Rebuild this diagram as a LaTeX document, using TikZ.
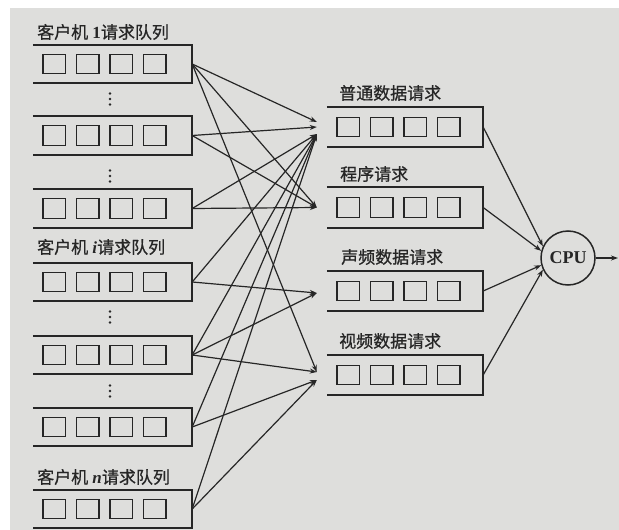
\documentclass[tikz,border=0pt]{standalone}
\usepackage{fontspec}
\setmainfont{Liberation Serif}
\newfontfamily\cjk[FakeBold=0.8]{Noto Sans CJK SC}
\usetikzlibrary{arrows.meta}

\definecolor{paper}{RGB}{222,222,220}
\definecolor{ink}{RGB}{38,38,38}

\tikzset{
    kqueue/.style={minimum width=159pt, minimum height=38pt, inner sep=0pt},
    tqueue/.style={minimum width=156pt, minimum height=40pt, inner sep=0pt},
    qline/.style={draw=ink, line width=1.8pt},
    slot/.style={draw=ink, line width=1.3pt, minimum width=22.5pt, minimum height=19.5pt, inner sep=0pt},
    qname/.style={anchor=west, inner sep=0pt, text=ink, font=\fontsize{17}{17}\selectfont},
    req/.style={-{Stealth[length=7pt,width=5pt]}, line width=1.2pt, draw=ink},
}

\begin{document}
\begin{tikzpicture}[x=1pt,y=-1pt]
        %底色
        \fill[white] (0,0) rectangle (619,530);
        \fill[paper] (10,8) rectangle (619,530);
        \useasboundingbox (0,0) rectangle (619,530);
        
        % 客户机请求队列
        \foreach \n/\y in {k1/64,k2/135.5,k3/208.5,k4/282,k5/355,k6/427,k7/509}
        {
            \node[kqueue] (\n) at (112.5,\y) {};
        };
        % 按类型的请求队列
        \foreach \n/\y in {pt/127,cx/207.5,sp/291,sx/375}
        {
            \node[tqueue] (\n) at (405,\y) {};
        };
        
        \foreach \n in {k1,k2,k3,k4,k5,k6,k7,pt,cx,sp,sx}
        {
            \draw[qline] (\n.north west) -- (\n.north east) -- (\n.south east) -- (\n.south west);
            \foreach \i in {0,...,3}
                \node[slot] (\n-s\i) at ([xshift={21.5pt+33.5pt*\i}]\n.west) {};
        };
        
        \node[qname] (t1) at (37,32) {{\cjk 客户机}\ \textbf{1}{\cjk 请求队列}};
        \node[qname] (ti) at (37,247) {{\cjk 客户机}\ \textbf{\textit{i}}{\cjk 请求队列}};
        \node[qname] (tn) at (37,477) {{\cjk 客户机}\ \textbf{\textit{n}}{\cjk 请求队列}};
        
        \node[qname] (tpt) at (339,93) {\cjk 普通数据请求};
        \node[qname] (tcx) at (340,174) {\cjk 程序请求};
        \node[qname] (tsp) at (341,257) {\cjk 声频数据请求};
        \node[qname] (tsx) at (339,341) {\cjk 视频数据请求};
        
        % 省略号
        \foreach \y in {99,176,317,391}
        {
            \foreach \d in {-5.5,0,5.5}
                \fill[ink] (110,\y+\d) circle (1.4pt);
        };
        
        \node[draw=ink, circle, line width=1.5pt, minimum size=54pt, inner sep=0pt,
              text=ink, font=\fontsize{18}{18}\selectfont\bfseries] (cpu) at (568,258) {CPU};
        \coordinate (out) at (618,258);
        
        % 请求分发
        \foreach \a/\b/\d in {k1/pt/5, k2/pt/0, k3/pt/-7, k4/pt/-7, k5/pt/-7, k6/pt/-7, k7/pt/-7,
                              k1/cx/0, k2/cx/0, k3/cx/0,
                              k4/sp/-2, k5/sp/-2,
                              k1/sx/3, k5/sx/3, k6/sx/-5, k7/sx/-5}
        {
            \draw[req] (\a.east) -- ([xshift=-10pt,yshift=\d pt]\b.west);
        };
        
        \foreach \b/\ang in {pt/155,cx/165,sp/195,sx/205}
        {
            \draw[req] (\b.east) -- (cpu.\ang);
        };
        \draw[req] (cpu.east) -- (out);

\end{tikzpicture}
\end{document}
